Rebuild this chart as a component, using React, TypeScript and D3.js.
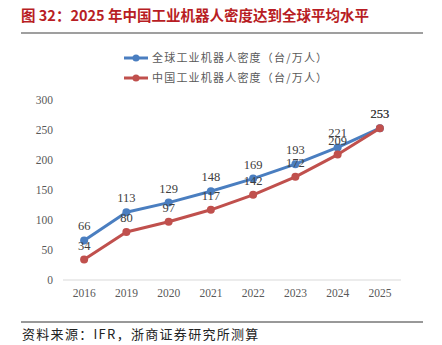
import React from "react";
import * as d3 from "d3";

const years = ["2016", "2019", "2020", "2021", "2022", "2023", "2024", "2025"];
const globalDensity = [66, 113, 129, 148, 169, 193, 221, 253];
const chinaDensity = [34, 80, 97, 117, 142, 172, 209, 253];
const yTicks = [0, 50, 100, 150, 200, 250, 300];
const seriesNames = ["全球工业机器人密度（台/万人）", "中国工业机器人密度（台/万人）"];
const titleText = "图 32：2025 年中国工业机器人密度达到全球平均水平";
const sourceText = "资料来源：IFR，浙商证券研究所测算";

const W = 442;
const H = 345;
const BLUE = "#4A7EC0";
const RED = "#C0504D";

export default function App() {
  const x = d3.scaleBand<string>().domain(years).range([63, 401]);
  const y = d3.scaleLinear().domain([0, 300]).range([280, 100]);
  const cx = (d: string) => (x(d) ?? 0) + x.bandwidth() / 2;
  const line = d3
    .line<number>()
    .x((_, i) => cx(years[i]))
    .y((v) => y(v));
  const series = [
    { name: seriesNames[0], values: globalDensity, color: BLUE },
    { name: seriesNames[1], values: chinaDensity, color: RED },
  ];
  const serif = "'Liberation Serif', 'Times New Roman', serif";
  const cjk = "'Noto Sans CJK SC', sans-serif";
  return (
    <svg width={W} height={H} style={{ position: "absolute", left: 0, top: 0, background: "#fff" }}>
      <text x={21} y={21} fontFamily={cjk} fontWeight="bold" fontSize={14.5} fill="#B81D24">
        {titleText}
      </text>
      <line x1={21} x2={423} y1={33} y2={33} stroke="#7F7F7F" strokeWidth={1.5} />
      {series.map((s, i) => (
        <g key={s.name} transform={`translate(0, ${58 + i * 20})`}>
          <line x1={124} x2={148} y1={0} y2={0} stroke={s.color} strokeWidth={3} />
          <circle cx={136} cy={0} r={3.5} fill={s.color} />
          <text x={152} y={4} fontFamily={cjk} fontSize={11} letterSpacing={1.2} fill="#595959">
            {s.name}
          </text>
        </g>
      ))}
      {yTicks.map((t) => (
        <text key={t} x={53} y={y(t) + 4} textAnchor="end" fontFamily={serif} fontSize={11.5} fill="#595959">
          {t}
        </text>
      ))}
      <line x1={63} x2={401} y1={y(0)} y2={y(0)} stroke="#D9D9D9" strokeWidth={1} />
      {years.map((yr) => (
        <text key={yr} x={cx(yr)} y={297} textAnchor="middle" fontFamily={serif} fontSize={11.5} fill="#595959">
          {yr}
        </text>
      ))}
      {series.map((s) => (
        <g key={s.name}>
          <path d={line(s.values) ?? ""} fill="none" stroke={s.color} strokeWidth={3} strokeLinejoin="round" />
          {s.values.map((v, i) => (
            <circle key={i} cx={cx(years[i])} cy={y(v)} r={4} fill={s.color} />
          ))}
        </g>
      ))}
      {series.map((s) =>
        s.values.map((v, i) => (
          <text
            key={s.name + i}
            x={cx(years[i])}
            y={y(v) - 10}
            textAnchor="middle"
            fontFamily={serif}
            fontSize={12.5}
            fill="#404040"
          >
            {v}
          </text>
        ))
      )}
      <line x1={21} x2={423} y1={322} y2={322} stroke="#333" strokeWidth={1} />
      <text x={22} y={339} fontFamily={cjk} fontSize={13} letterSpacing={1.3} fill="#222">
        {sourceText}
      </text>
    </svg>
  );
}
